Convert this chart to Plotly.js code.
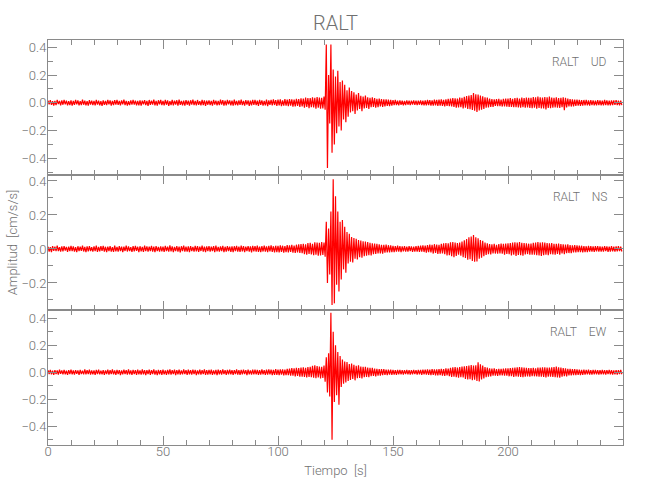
<!DOCTYPE html>
<html>
<head>
<meta charset="utf-8">
<script src="https://cdn.plot.ly/plotly-3.0.1.min.js"></script>
<style>html,body{margin:0;padding:0;background:#fff}#chart{width:650px;height:500px}</style>
</head>
<body>
<div id="chart"></div>
<script>
// Sampling interval of the traces (s)
const dt = 0.5;

// Station / component names
const station = 'RALT';
const components = ['UD', 'NS', 'EW'];

// Amplitude values [cm/s/s], one sample every dt seconds from t = 0
const udVals = [
.016,-.012,.019,-.015,.011,-.020,.014,-.017,.021,-.010,.013,-.018,.017,-.014,.020,-.011,.015,-.019,.012,-.016,
.018,-.021,.013,-.015,.020,-.012,.017,-.019,.011,-.016,.022,-.014,.015,-.018,.012,-.020,.019,-.013,.016,-.017,
.014,-.019,.021,-.013,.016,-.018,.012,-.022,.018,-.015,.013,-.017,.020,-.012,.017,-.021,.014,-.016,.019,-.014,
.020,-.015,.013,-.019,.017,-.012,.022,-.016,.014,-.020,.011,-.017,.018,-.014,.021,-.013,.016,-.019,.013,-.018,
.017,-.021,.015,-.012,.019,-.017,.013,-.023,.020,-.015,.016,-.013,.022,-.018,.014,-.020,.018,-.012,.021,-.016,
.013,-.018,.020,-.014,.017,-.022,.012,-.016,.021,-.019,.015,-.013,.018,-.021,.023,-.015,.013,-.018,.016,-.020,
.019,-.014,.016,-.021,.018,-.013,.022,-.017,.014,-.019,.020,-.015,.012,-.018,.021,-.016,.017,-.022,.015,-.014,
.018,-.016,.014,-.020,.021,-.013,.016,-.019,.013,-.017,.022,-.014,.019,-.021,.015,-.018,.020,-.012,.017,-.019,
.015,-.020,.022,-.016,.013,-.019,.018,-.015,.023,-.017,.014,-.021,.019,-.013,.017,-.022,.016,-.018,.021,-.015,
.020,-.017,.016,-.022,.021,-.015,.018,-.020,.014,-.018,.023,-.024,.017,-.015,.021,-.019,.025,-.016,.019,-.022,
.022,-.019,.024,-.025,.018,-.021,.026,-.020,.023,-.025,.027,-.021,.024,-.028,.022,-.026,.029,-.023,.027,-.030,
.032,-.026,.030,-.035,.037,-.029,.034,-.038,.033,-.031,.040,-.034,.036,-.042,.041,-.035,.038,-.043,.036,-.040,
.045,-.05,.42,-.47,.20,-.15,.42,-.36,.24,-.30,.19,-.22,.23,-.17,.15,-.20,.16,-.12,.13,-.14,
.09,-.10,.11,-.07,.085,-.06,.075,-.08,.06,-.055,.07,-.045,.05,-.06,.045,-.04,.052,-.038,.04,-.045,
.036,-.032,.04,-.03,.033,-.036,.028,-.031,.03,-.026,.027,-.029,.024,-.026,.025,-.022,.023,-.025,.021,-.02,
.019,-.017,.02,-.016,.015,-.018,.017,-.015,.016,-.019,.014,-.016,.018,-.014,.015,-.017,.016,-.013,.017,-.015,
.015,-.017,.016,-.014,.018,-.016,.015,-.019,.017,-.018,.02,-.016,.019,-.021,.018,-.02,.022,-.018,.021,-.023,
.022,-.02,.025,-.023,.021,-.026,.024,-.022,.028,-.025,.03,-.027,.033,-.029,.032,-.035,.031,-.034,.037,-.032,
.035,-.04,.043,-.036,.048,-.044,.052,-.046,.056,-.052,.07,-.058,.062,-.066,.06,-.055,.052,-.05,.046,-.044,
.04,-.036,.037,-.033,.031,-.029,.027,-.03,.025,-.023,.026,-.024,.028,-.025,.023,-.027,.029,-.026,.03,-.028,
.031,-.029,.033,-.03,.028,-.032,.034,-.031,.035,-.033,.03,-.035,.037,-.032,.034,-.036,.038,-.033,.035,-.037,
.036,-.039,.041,-.035,.039,-.042,.044,-.038,.04,-.041,.037,-.04,.042,-.048,.04,-.038,.044,-.039,.037,-.035,
.035,-.033,.039,-.035,.033,-.037,.035,-.032,.04,-.053,.035,-.033,.03,-.027,.026,-.027,.024,-.026,.023,-.022,
.022,-.02,.021,-.023,.019,-.021,.02,-.018,.021,-.019,.017,-.02,.019,-.017,.018,-.019,.016,-.018,.019,-.017,
.017,-.019,.016,-.018,.02,-.016,.017,-.018,.015,-.019,.018,-.016,.017,-.015,.019,-.017,.016,-.018,.015,-.017
];

const nsVals = [
.013,-.015,.010,-.018,.016,-.011,.014,-.013,.019,-.012,.011,-.016,.015,-.014,.017,-.010,.012,-.017,.014,-.013,
.018,-.012,.015,-.016,.011,-.019,.016,-.013,.013,-.011,.020,-.015,.012,-.018,.015,-.014,.017,-.012,.010,-.016,
.015,-.013,.019,-.017,.012,-.014,.016,-.011,.018,-.016,.013,-.019,.014,-.012,.016,-.015,.011,-.017,.019,-.014,
.012,-.015,.017,-.013,.014,-.018,.013,-.012,.020,-.015,.015,-.013,.011,-.017,.016,-.014,.018,-.011,.013,-.019,
.016,-.014,.012,-.017,.019,-.013,.015,-.016,.013,-.012,.018,-.015,.014,-.019,.017,-.013,.012,-.016,.015,-.014,
.014,-.017,.018,-.012,.013,-.016,.021,-.014,.015,-.018,.012,-.013,.017,-.015,.014,-.020,.016,-.012,.019,-.015,
.013,-.016,.015,-.019,.017,-.013,.012,-.015,.018,-.014,.016,-.017,.013,-.012,.020,-.016,.014,-.018,.015,-.013,
.017,-.015,.014,-.013,.016,-.018,.019,-.014,.012,-.016,.015,-.013,.018,-.019,.013,-.015,.017,-.012,.014,-.017,
.015,-.019,.016,-.013,.018,-.015,.013,-.017,.019,-.014,.016,-.018,.014,-.012,.017,-.016,.015,-.020,.018,-.014,
.016,-.015,.019,-.017,.014,-.018,.017,-.015,.020,-.016,.015,-.019,.018,-.014,.021,-.017,.016,-.020,.019,-.018,
.018,-.020,.021,-.017,.019,-.022,.017,-.019,.023,-.020,.021,-.018,.024,-.022,.020,-.023,.025,-.021,.027,-.024,
.028,-.025,.030,-.031,.027,-.033,.034,-.029,.036,-.032,.031,-.037,.039,-.033,.037,-.040,.036,-.038,.041,-.035,
.038,-.045,.16,-.20,.12,-.15,.22,-.33,.41,-.32,.31,-.21,.22,-.25,.16,-.18,.17,-.12,.13,-.14,
.10,-.085,.09,-.075,.07,-.08,.065,-.058,.06,-.062,.052,-.048,.05,-.052,.045,-.042,.043,-.04,.04,-.036,
.036,-.038,.033,-.031,.032,-.029,.03,-.027,.028,-.026,.025,-.027,.024,-.022,.025,-.021,.022,-.02,.021,-.019,
.018,-.019,.017,-.016,.019,-.015,.016,-.018,.015,-.014,.017,-.016,.014,-.015,.016,-.013,.015,-.017,.014,-.016,
.016,-.015,.018,-.017,.019,-.016,.021,-.018,.02,-.022,.023,-.019,.025,-.021,.024,-.027,.028,-.023,.026,-.029,
.025,-.028,.03,-.027,.033,-.031,.035,-.038,.033,-.036,.039,-.043,.041,-.048,.038,-.041,.035,-.033,.037,-.039,
.043,-.048,.051,-.053,.058,-.063,.068,-.061,.073,-.071,.082,-.075,.068,-.073,.063,-.058,.053,-.051,.048,-.043,
.038,-.035,.033,-.031,.029,-.032,.028,-.026,.03,-.027,.025,-.028,.029,-.026,.031,-.028,.03,-.033,.032,-.029,
.033,-.031,.035,-.038,.037,-.033,.039,-.041,.038,-.035,.041,-.037,.036,-.039,.034,-.032,.033,-.03,.031,-.033,
.032,-.034,.036,-.033,.038,-.037,.04,-.038,.037,-.041,.039,-.036,.038,-.034,.035,-.037,.033,-.031,.034,-.032,
.031,-.033,.03,-.029,.032,-.034,.029,-.027,.028,-.03,.026,-.025,.027,-.024,.023,-.025,.022,-.021,.023,-.02,
.021,-.019,.02,-.018,.019,-.02,.017,-.018,.016,-.019,.018,-.015,.017,-.016,.015,-.017,.016,-.014,.017,-.015,
.015,-.016,.014,-.015,.016,-.013,.015,-.017,.014,-.015,.016,-.014,.013,-.015,.015,-.014,.016,-.013,.014,-.015
];

const ewVals = [
.015,-.013,.018,-.016,.012,-.019,.016,-.014,.013,-.018,.020,-.012,.014,-.016,.018,-.015,.011,-.019,.016,-.013,
.019,-.015,.013,-.018,.016,-.012,.014,-.020,.017,-.014,.012,-.016,.021,-.015,.015,-.013,.019,-.017,.014,-.016,
.013,-.019,.017,-.014,.020,-.016,.012,-.015,.016,-.020,.014,-.013,.019,-.017,.015,-.014,.021,-.016,.013,-.019,
.017,-.014,.015,-.021,.014,-.016,.019,-.013,.016,-.017,.021,-.015,.013,-.019,.017,-.014,.015,-.020,.019,-.015,
.014,-.017,.021,-.015,.016,-.022,.015,-.014,.020,-.019,.016,-.013,.022,-.017,.014,-.021,.017,-.015,.016,-.019,
.020,-.016,.014,-.019,.017,-.015,.021,-.017,.015,-.014,.019,-.021,.016,-.015,.020,-.017,.014,-.016,.021,-.014,
.016,-.020,.019,-.015,.015,-.017,.020,-.014,.017,-.021,.014,-.016,.019,-.017,.016,-.014,.021,-.019,.015,-.017,
.017,-.015,.020,-.019,.014,-.016,.017,-.021,.019,-.015,.016,-.017,.021,-.014,.015,-.019,.017,-.016,.020,-.015,
.015,-.019,.016,-.014,.021,-.017,.015,-.020,.017,-.016,.019,-.014,.016,-.021,.020,-.015,.014,-.017,.019,-.016,
.019,-.016,.017,-.020,.015,-.017,.021,-.015,.016,-.019,.020,-.017,.022,-.016,.019,-.021,.017,-.020,.023,-.019,
.020,-.021,.022,-.018,.021,-.024,.020,-.022,.025,-.021,.027,-.026,.030,-.025,.028,-.031,.032,-.028,.031,-.033,
.034,-.032,.037,-.035,.033,-.039,.038,-.034,.04,-.037,.048,-.04,.052,-.044,.045,-.038,.042,-.046,.04,-.043,
.05,-.07,.11,-.15,.14,-.18,.44,-.50,.30,-.22,.20,-.17,.15,-.24,.12,-.11,.095,-.085,.08,-.075,
.075,-.065,.06,-.058,.065,-.05,.055,-.06,.048,-.045,.052,-.043,.042,-.046,.04,-.037,.041,-.035,.034,-.037,
.033,-.03,.032,-.028,.027,-.03,.025,-.026,.024,-.025,.023,-.021,.024,-.02,.019,-.021,.02,-.018,.019,-.02,
.018,-.017,.016,-.019,.017,-.015,.018,-.016,.015,-.017,.016,-.014,.017,-.016,.015,-.018,.016,-.015,.017,-.014,
.016,-.017,.018,-.015,.017,-.019,.02,-.016,.019,-.018,.021,-.02,.019,-.022,.023,-.02,.022,-.024,.021,-.023,
.024,-.022,.026,-.025,.023,-.027,.028,-.024,.027,-.029,.032,-.034,.036,-.032,.039,-.037,.034,-.04,.038,-.036,
.042,-.039,.044,-.049,.046,-.054,.049,-.052,.054,-.059,.049,-.056,.052,-.064,.074,-.068,.059,-.054,.049,-.046,
.039,-.036,.034,-.032,.029,-.031,.027,-.025,.028,-.026,.024,-.027,.025,-.023,.026,-.024,.027,-.025,.029,-.026,
.028,-.03,.031,-.029,.032,-.034,.034,-.031,.036,-.033,.039,-.034,.037,-.036,.034,-.032,.033,-.031,.03,-.032,
.031,-.029,.032,-.03,.029,-.031,.034,-.032,.035,-.033,.037,-.034,.036,-.038,.034,-.032,.035,-.033,.037,-.035,
.039,-.036,.042,-.038,.037,-.04,.034,-.032,.031,-.029,.028,-.03,.026,-.024,.025,-.023,.024,-.022,.023,-.021,
.021,-.02,.019,-.021,.018,-.019,.02,-.017,.018,-.016,.019,-.017,.016,-.018,.017,-.015,.018,-.016,.015,-.017,
.016,-.015,.017,-.016,.015,-.017,.016,-.014,.017,-.015,.016,-.017,.014,-.016,.015,-.017,.016,-.014,.017,-.015
];

// Tick values
const xTickVals = [0, 50, 100, 150, 200];
const yTickVals1 = [-0.4, -0.2, 0.0, 0.2, 0.4];
const yTickVals2 = [-0.2, 0.0, 0.2, 0.4];
const yTickVals3 = [-0.4, -0.2, 0.0, 0.2, 0.4];

const series = [udVals, nsVals, ewVals];

const axisCol = '#8a8a8a';
const textCol = '#707070';
const fontFam = 'Roboto, "DejaVu Sans", sans-serif';

const traces = series.map((vals, k) => ({
  type: 'scatter', mode: 'lines',
  x: vals.map((_, i) => i * dt), y: vals,
  xaxis: k === 0 ? 'x' : 'x' + (k + 1),
  yaxis: k === 0 ? 'y' : 'y' + (k + 1),
  line: {color: '#ff0000', width: 1.2},
  hoverinfo: 'skip', showlegend: false
}));

function xAx(anchor, labels) {
  return {
    anchor: anchor, domain: [0, 1], range: [0, 250],
    tickvals: xTickVals, ticks: 'inside', ticklen: 9, tickwidth: 1, tickcolor: axisCol,
    minor: {ticks: 'inside', ticklen: 5, dtick: 10, tick0: 0, tickcolor: axisCol, showgrid: false},
    showline: true, linecolor: axisCol, linewidth: 1, mirror: 'ticks',
    showgrid: false, zeroline: false, showticklabels: labels, ticklabelstandoff: -6,
    tickfont: {family: fontFam, size: 13, color: textCol, weight: 300},
    fixedrange: true
  };
}
function yAx(anchor, domain, range, tv) {
  return {
    anchor: anchor, domain: domain, range: range,
    tickvals: tv, tickformat: '.1f', ticks: 'inside', ticklen: 9, tickwidth: 1, tickcolor: axisCol,
    minor: {ticks: 'inside', ticklen: 5, dtick: 0.1, tick0: 0, tickcolor: axisCol, showgrid: false},
    showline: true, linecolor: axisCol, linewidth: 1, mirror: 'ticks',
    showgrid: false, zeroline: false, ticklabelstandoff: -2,
    tickfont: {family: fontFam, size: 13, color: textCol, weight: 300},
    fixedrange: true
  };
}

const layout = {
  width: 650, height: 500,
  margin: {l: 48, r: 27, t: 40, b: 55},
  paper_bgcolor: '#fff', plot_bgcolor: '#fff',
  font: {family: fontFam, color: textCol},
  title: {text: station, xref: 'paper', x: 0.5, xanchor: 'center', yref: 'container', y: 0.955, yanchor: 'middle',
          font: {family: fontFam, size: 20, color: textCol, weight: 300}},
  xaxis: xAx('y', false),
  xaxis2: Object.assign(xAx('y2', false), {matches: 'x'}),
  xaxis3: Object.assign(xAx('y3', true), {matches: 'x',
    title: {text: 'Tiempo\u00a0\u00a0[s]', standoff: 8, font: {family: fontFam, size: 13, color: textCol, weight: 300}}}),
  yaxis: yAx('x', [2/3, 1], [-0.52, 0.452], yTickVals1),
  yaxis2: Object.assign(yAx('x2', [1/3, 2/3], [-0.359, 0.435], yTickVals2),
    {title: {text: 'Amplitud\u00a0\u00a0[cm/s/s]', standoff: 0, font: {family: fontFam, size: 13, color: textCol, weight: 300}}}),
  yaxis3: yAx('x3', [0, 1/3], [-0.539, 0.461], yTickVals3),
  annotations: components.map((c, k) => ({
    text: station + '\u00a0\u00a0\u00a0\u00a0' + c,
    xref: 'paper', x: 0.976, xanchor: 'right',
    yref: (k === 0 ? 'y' : 'y' + (k + 1)) + ' domain', y: 0.84, yanchor: 'middle',
    showarrow: false, font: {family: fontFam, size: 12, color: textCol, weight: 300}
  }))
};

Plotly.newPlot('chart', traces, layout, {staticPlot: true, displayModeBar: false});
</script>
</body>
</html>
